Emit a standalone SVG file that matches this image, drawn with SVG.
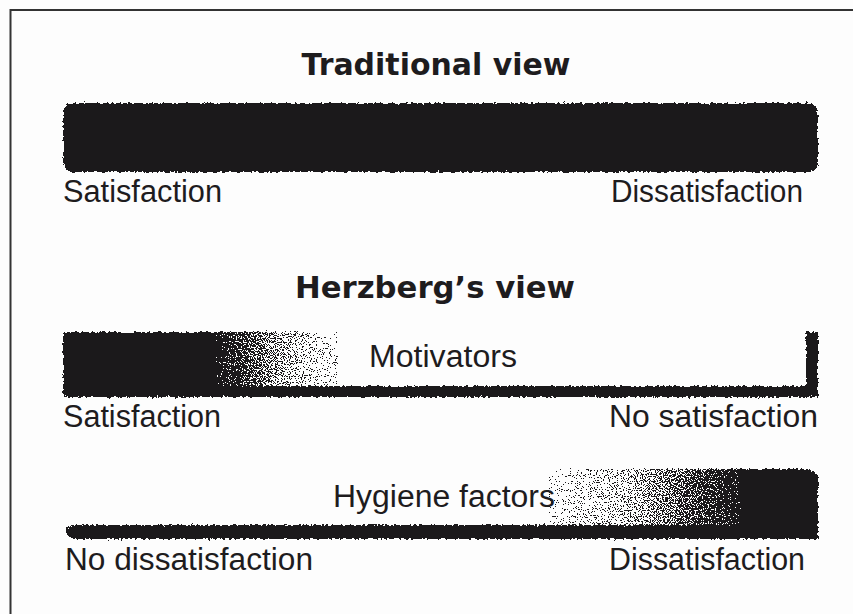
<svg xmlns="http://www.w3.org/2000/svg" width="853" height="614" viewBox="0 0 853 614">
  <style>
    .title { font-family: "DejaVu Sans", "Liberation Sans", sans-serif; font-weight: bold; font-size: 30px; fill: #1e1c1e; text-anchor: middle; }
    .lbl { font-family: "Liberation Sans", "DejaVu Sans", sans-serif; font-size: 31px; fill: #1e1c1e; }
    .inner { font-family: "Liberation Sans", "DejaVu Sans", sans-serif; font-size: 31px; fill: #1e1c1e; }
    .ink { fill: #000; }
  </style>
  <defs>
    <filter id="ink" filterUnits="userSpaceOnUse" x="0" y="0" width="853" height="614" color-interpolation-filters="sRGB">
      <feTurbulence type="fractalNoise" baseFrequency="0.35" numOctaves="2" seed="4" result="warp"/>
      <feDisplacementMap in="SourceGraphic" in2="warp" scale="5" xChannelSelector="R" yChannelSelector="G" result="disp"/>
      <feTurbulence type="fractalNoise" baseFrequency="0.85" numOctaves="1" seed="7" result="n"/>
      <feColorMatrix in="n" type="matrix" values="0 0 0 0 0  0 0 0 0 0  0 0 0 0 0  1 0 0 0 0" result="na0"/>
      <feComponentTransfer in="na0" result="na">
        <feFuncA type="linear" slope="3" intercept="-1"/>
      </feComponentTransfer>
      <feComposite in="disp" in2="na" operator="arithmetic" k1="0" k2="1.02" k3="-1" k4="0.49" result="th"/>
      <feComponentTransfer in="th" result="bin">
        <feFuncA type="discrete" tableValues="0 1"/>
      </feComponentTransfer>
      <feFlood flood-color="#1b191b" result="fl"/>
      <feComposite in="fl" in2="bin" operator="in"/>
    </filter>
    <linearGradient id="gMot" gradientUnits="userSpaceOnUse" x1="63" y1="0" x2="340" y2="0">
      <stop offset="0" stop-color="#000" stop-opacity="1"/>
      <stop offset="0.55" stop-color="#000" stop-opacity="1"/>
      <stop offset="0.75" stop-color="#000" stop-opacity="0.45"/>
      <stop offset="1" stop-color="#000" stop-opacity="0"/>
    </linearGradient>
    <linearGradient id="gHyg" gradientUnits="userSpaceOnUse" x1="545" y1="0" x2="818" y2="0">
      <stop offset="0" stop-color="#000" stop-opacity="0"/>
      <stop offset="0.35" stop-color="#000" stop-opacity="0.35"/>
      <stop offset="0.72" stop-color="#000" stop-opacity="1"/>
      <stop offset="1" stop-color="#000" stop-opacity="1"/>
    </linearGradient>
  </defs>

  <rect x="0" y="0" width="853" height="614" fill="#fdfdfd"/>

  <g id="frame">
    <path d="M10.5,614 V10 H853" fill="none" stroke="#333" stroke-width="2"/>
  </g>

  <g id="traditional-view">
    <text class="title" x="436" y="75" textLength="269" lengthAdjust="spacingAndGlyphs">Traditional view</text>
    <g id="traditional-bar" filter="url(#ink)">
      <rect class="ink" x="63" y="103" width="755" height="69" rx="10"/>
    </g>
    <text class="lbl" x="63" y="202" textLength="159" lengthAdjust="spacingAndGlyphs">Satisfaction</text>
    <text class="lbl" x="803" y="202" text-anchor="end" textLength="192" lengthAdjust="spacingAndGlyphs">Dissatisfaction</text>
  </g>

  <g id="herzberg-view">
    <text class="title" x="435" y="298" textLength="280" lengthAdjust="spacingAndGlyphs">Herzberg’s view</text>
  </g>

  <g id="motivators">
    <g id="motivators-bar" filter="url(#ink)">
      <rect x="63" y="332" width="277" height="64" rx="3" fill="url(#gMot)"/>
      <rect class="ink" x="63" y="386" width="755" height="11" rx="2"/>
      <rect class="ink" x="806" y="332" width="12" height="65" rx="2"/>
    </g>
    <text class="inner" x="369" y="367" textLength="148" lengthAdjust="spacingAndGlyphs">Motivators</text>
    <text class="lbl" x="63" y="427" textLength="158" lengthAdjust="spacingAndGlyphs">Satisfaction</text>
    <text class="lbl" x="818" y="427" text-anchor="end" textLength="209" lengthAdjust="spacingAndGlyphs">No satisfaction</text>
  </g>

  <g id="hygiene-factors">
    <g id="hygiene-bar" filter="url(#ink)">
      <rect x="545" y="469" width="273" height="70" rx="12" fill="url(#gHyg)"/>
      <path class="ink" d="M66,530 Q68,525 78,525 H818 V539 H76 Q66,538 66,530 Z"/>
    </g>
    <text class="inner" x="333" y="507" textLength="222" lengthAdjust="spacingAndGlyphs">Hygiene factors</text>
    <text class="lbl" x="65" y="570" textLength="248" lengthAdjust="spacingAndGlyphs">No dissatisfaction</text>
    <text class="lbl" x="805" y="570" text-anchor="end" textLength="196" lengthAdjust="spacingAndGlyphs">Dissatisfaction</text>
  </g>
</svg>
